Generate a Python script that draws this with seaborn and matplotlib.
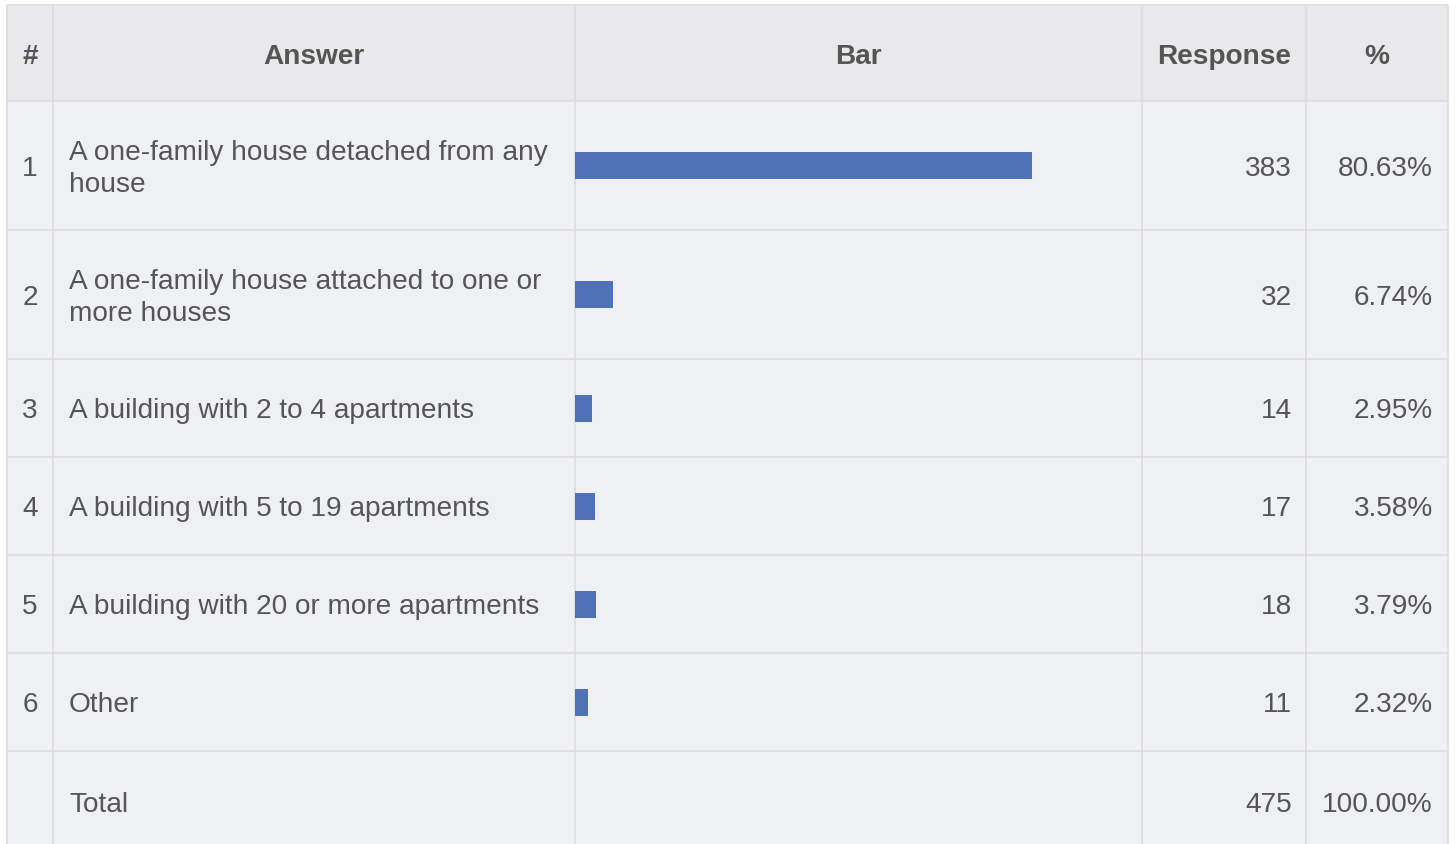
"""Survey result table: type of home, drawn as a table with an inline bar column."""

import matplotlib
matplotlib.use("Agg")
import matplotlib.pyplot as plt
from matplotlib.patches import Rectangle
import seaborn as sns

# --- data -----------------------------------------------------------------
row_ids = ["1", "2", "3", "4", "5", "6"]
answers = [
    "A one-family house detached from any\nhouse",
    "A one-family house attached to one or\nmore houses",
    "A building with 2 to 4 apartments",
    "A building with 5 to 19 apartments",
    "A building with 20 or more apartments",
    "Other",
]
responses = [383, 32, 14, 17, 18, 11]
percents = ["80.63%", "6.74%", "2.95%", "3.58%", "3.79%", "2.32%"]
total_label = "Total"
total_response = 475
total_percent = "100.00%"
headers = ["#", "Answer", "Bar", "Response", "%"]

# --- layout (pixels) --------------------------------------------------------
W, H = 1456, 844
col_edges = [7, 53, 575, 1142, 1306, 1448]
top = 5
header_h = 96
row_heights = [129, 129, 98, 98, 98, 98, 100]  # last one is the Total row
bar_px = 27
dy = 3.5  # text baseline nudge

HEADER_BG = "#e9e9eb"
BODY_BG = "#eff0f4"
GRID = "#dcdcdf"
TEXT = "#555555"
BAR = "#4f71b6"
FS = 20.2

sns.set_theme(style="white")
plt.rcParams["font.family"] = ["Liberation Sans", "DejaVu Sans"]

fig = plt.figure(figsize=(W / 100, H / 100), dpi=100)
ax = fig.add_axes([0, 0, 1, 1])
ax.set_xlim(0, W)
ax.set_ylim(H, 0)
ax.axis("off")

# backgrounds
x0, x1 = col_edges[0], col_edges[-1]
ax.add_patch(Rectangle((x0, top), x1 - x0, header_h, color=HEADER_BG, lw=0))
body_top = top + header_h
ax.add_patch(Rectangle((x0, body_top), x1 - x0, H - body_top, color=BODY_BG, lw=0))

# row boundaries
row_tops = [body_top]
for h in row_heights:
    row_tops.append(row_tops[-1] + h)
row_centers = [(row_tops[i] + row_tops[i + 1]) / 2 for i in range(len(row_heights))]

# grid lines
for y in [top] + row_tops[:-1]:
    ax.plot([x0, x1], [y, y], color=GRID, lw=1.2, solid_capstyle="butt")
for x in col_edges:
    ax.plot([x, x], [top, H], color=GRID, lw=1.2, solid_capstyle="butt")

# header text
header_y = top + header_h / 2 + dy
for i, label in enumerate(headers):
    cx = (col_edges[i] + col_edges[i + 1]) / 2
    ax.text(cx, header_y, label, ha="center", va="center", fontsize=FS,
            fontweight="bold", color=TEXT)

# body text
resp_x = col_edges[4] - 14
pct_x = col_edges[5] - 15
for i, (rid, ans, resp, pct) in enumerate(zip(row_ids, answers, responses, percents)):
    y = row_centers[i] + dy
    ax.text((col_edges[0] + col_edges[1]) / 2, y, rid, ha="center", va="center",
            fontsize=FS, color=TEXT)
    ax.text(col_edges[1] + 16, y, ans, ha="left", va="center", fontsize=FS,
            color=TEXT, linespacing=1.32)
    ax.text(resp_x, y, str(resp), ha="right", va="center", fontsize=FS, color=TEXT)
    ax.text(pct_x, y, pct, ha="right", va="center", fontsize=FS, color=TEXT)

y = row_centers[-1] + dy
ax.text(col_edges[1] + 16, y, total_label, ha="left", va="center", fontsize=FS, color=TEXT)
ax.text(resp_x, y, str(total_response), ha="right", va="center", fontsize=FS, color=TEXT)
ax.text(pct_x, y, total_percent, ha="right", va="center", fontsize=FS, color=TEXT)

# bar column: separate axes spanning the Bar column, full figure height
bx0, bx1 = col_edges[2], col_edges[3]
bar_ax = fig.add_axes([bx0 / W, 0, (bx1 - bx0) / W, 1])
bar_ax.patch.set_alpha(0)
bar_centers = row_centers[: len(responses)]
spacing = min(b - a for a, b in zip(bar_centers, bar_centers[1:]))
sns.barplot(x=responses, y=bar_centers, orient="h", native_scale=True,
            color=BAR, saturation=1, width=bar_px / spacing, errorbar=None,
            linewidth=0, ax=bar_ax)
bar_ax.set_xlim(0, total_response)
bar_ax.set_ylim(H, 0)
bar_ax.axis("off")

fig.savefig("out.png", dpi=100, facecolor="white")
